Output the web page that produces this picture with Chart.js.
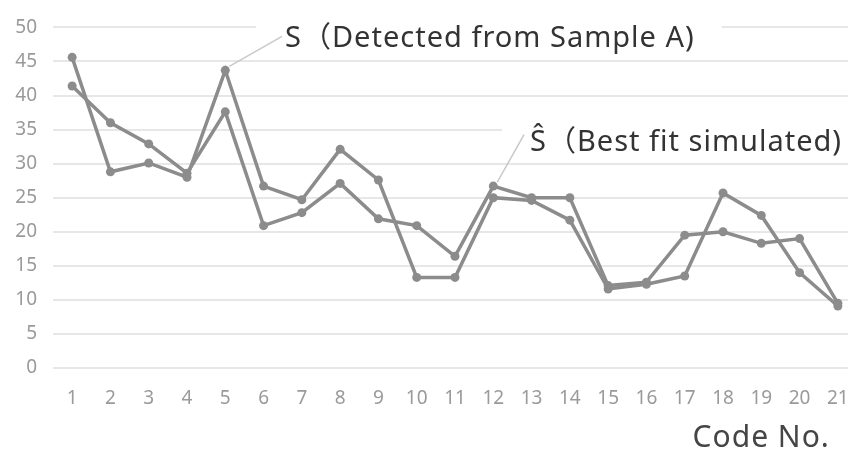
<!DOCTYPE html>
<html>
<head>
<meta charset="utf-8">
<script src="https://cdn.jsdelivr.net/npm/chart.js@4.4.1/dist/chart.umd.min.js"></script>
<style>
  html, body { margin: 0; padding: 0; background: #ffffff; }
  #wrap { width: 848px; height: 454px; overflow: hidden; position: relative; }
  canvas { display: block; }
</style>
</head>
<body>
<div id="wrap"><canvas id="c" width="870" height="454"></canvas></div>
<script>
// Code numbers along the x axis
const codes = ['1','2','3','4','5','6','7','8','9','10','11','12','13','14','15','16','17','18','19','20','21'];

// S: values detected from Sample A
const detected = [45.6, 28.8, 30.1, 28.0, 43.7, 26.7, 24.7, 32.1, 27.6, 13.3, 13.3, 25.0, 24.6, 21.7, 11.6, 12.3, 13.5, 25.7, 22.4, 14.0, 9.1];

// Ŝ: best fit simulated values
const simulated = [41.4, 36.0, 32.9, 28.6, 37.6, 20.9, 22.8, 27.1, 21.9, 20.9, 16.4, 26.7, 25.0, 25.0, 12.1, 12.6, 19.5, 20.0, 18.3, 19.0, 9.5];

// Y axis ticks
const yTicks = [0, 5, 10, 15, 20, 25, 30, 35, 40, 45, 50];

const lineGray = '#8c8c8c';
const textFont = '"Noto Sans", "Noto Sans CJK JP", sans-serif';

// Callout labels with leader lines, positioned in data space
const callouts = [
  { text: 'S（Detected from Sample A)', at: [5.56, 48.4], target: [4, detected[4]],
    box: { left: 29, right: 27, up: 20, down: 18 }, leaderEnd: [-3, -2] },
  { text: 'Ŝ（Best fit simulated)', at: [11.96, 33.1], target: [11, simulated[11]],
    box: { left: 28, right: 40, up: 42, down: 14 }, leaderEnd: [-6, -8] }
];

function setTextStyle(ctx, size) {
  ctx.font = size + 'px ' + textFont;
  if ('letterSpacing' in ctx) ctx.letterSpacing = '1px';
}

const calloutPlugin = {
  id: 'callouts',
  beforeDatasetsDraw(chart) {
    const { ctx, scales: { x, y } } = chart;
    ctx.save();
    setTextStyle(ctx, 29);
    callouts.forEach(c => {
      const tx = x.getPixelForValue(c.at[0]);
      const ty = y.getPixelForValue(c.at[1]);
      const w = ctx.measureText(c.text).width;
      // white box hides gridlines behind the text
      ctx.fillStyle = '#ffffff';
      ctx.fillRect(tx - c.box.left, ty - c.box.up, w + c.box.left + c.box.right, c.box.up + c.box.down);
      // leader line to the marked point
      const px = x.getPixelForValue(c.target[0]);
      const py = y.getPixelForValue(c.target[1]);
      ctx.strokeStyle = '#c9c9c9';
      ctx.lineWidth = 1.5;
      ctx.beginPath();
      ctx.moveTo(px + 4, py - 4);
      ctx.lineTo(tx + c.leaderEnd[0], ty + c.leaderEnd[1]);
      ctx.stroke();
    });
    ctx.restore();
  },
  afterDraw(chart) {
    const { ctx, scales: { x, y } } = chart;
    ctx.save();
    setTextStyle(ctx, 29);
    ctx.fillStyle = '#333333';
    ctx.textAlign = 'left';
    ctx.textBaseline = 'middle';
    callouts.forEach(c => {
      ctx.fillText(c.text, x.getPixelForValue(c.at[0]), y.getPixelForValue(c.at[1]));
    });
    // axis title under the last codes
    setTextStyle(ctx, 30);
    ctx.fillStyle = '#454545';
    ctx.textAlign = 'right';
    ctx.fillText('Code No.', x.getPixelForValue(codes.length - 1) - 8, chart.height - 16);
    ctx.restore();
  }
};

new Chart(document.getElementById('c'), {
  type: 'line',
  data: {
    labels: codes,
    datasets: [
      { label: 'S', data: detected },
      { label: 'Ŝ', data: simulated }
    ].map(d => Object.assign(d, {
      borderColor: lineGray,
      backgroundColor: lineGray,
      borderWidth: 3.5,
      pointRadius: 4.5,
      pointBorderWidth: 0,
      pointBackgroundColor: lineGray,
      tension: 0,
      fill: false
    }))
  },
  options: {
    responsive: false,
    animation: false,
    devicePixelRatio: 1,
    layout: { padding: { top: 18, right: 13, left: 0, bottom: 0 } },
    plugins: { legend: { display: false }, tooltip: { enabled: false } },
    scales: {
      x: {
        offset: true,
        grid: { display: false, drawTicks: false },
        border: { display: false },
        ticks: { color: '#9a9a9a', font: { family: textFont, size: 19 }, padding: 19, maxRotation: 0, autoSkip: false },
        afterFit: s => { s.height = 86; }
      },
      y: {
        min: 0,
        max: 50,
        afterBuildTicks: s => { s.ticks = yTicks.map(v => ({ value: v })); },
        grid: { color: '#e7e7e7', lineWidth: 2, drawTicks: false },
        border: { display: false },
        ticks: { color: '#9a9a9a', font: { family: textFont, size: 19 }, padding: 16 },
        afterFit: s => { s.width = 53; }
      }
    }
  },
  plugins: [calloutPlugin]
});
</script>
</body>
</html>
